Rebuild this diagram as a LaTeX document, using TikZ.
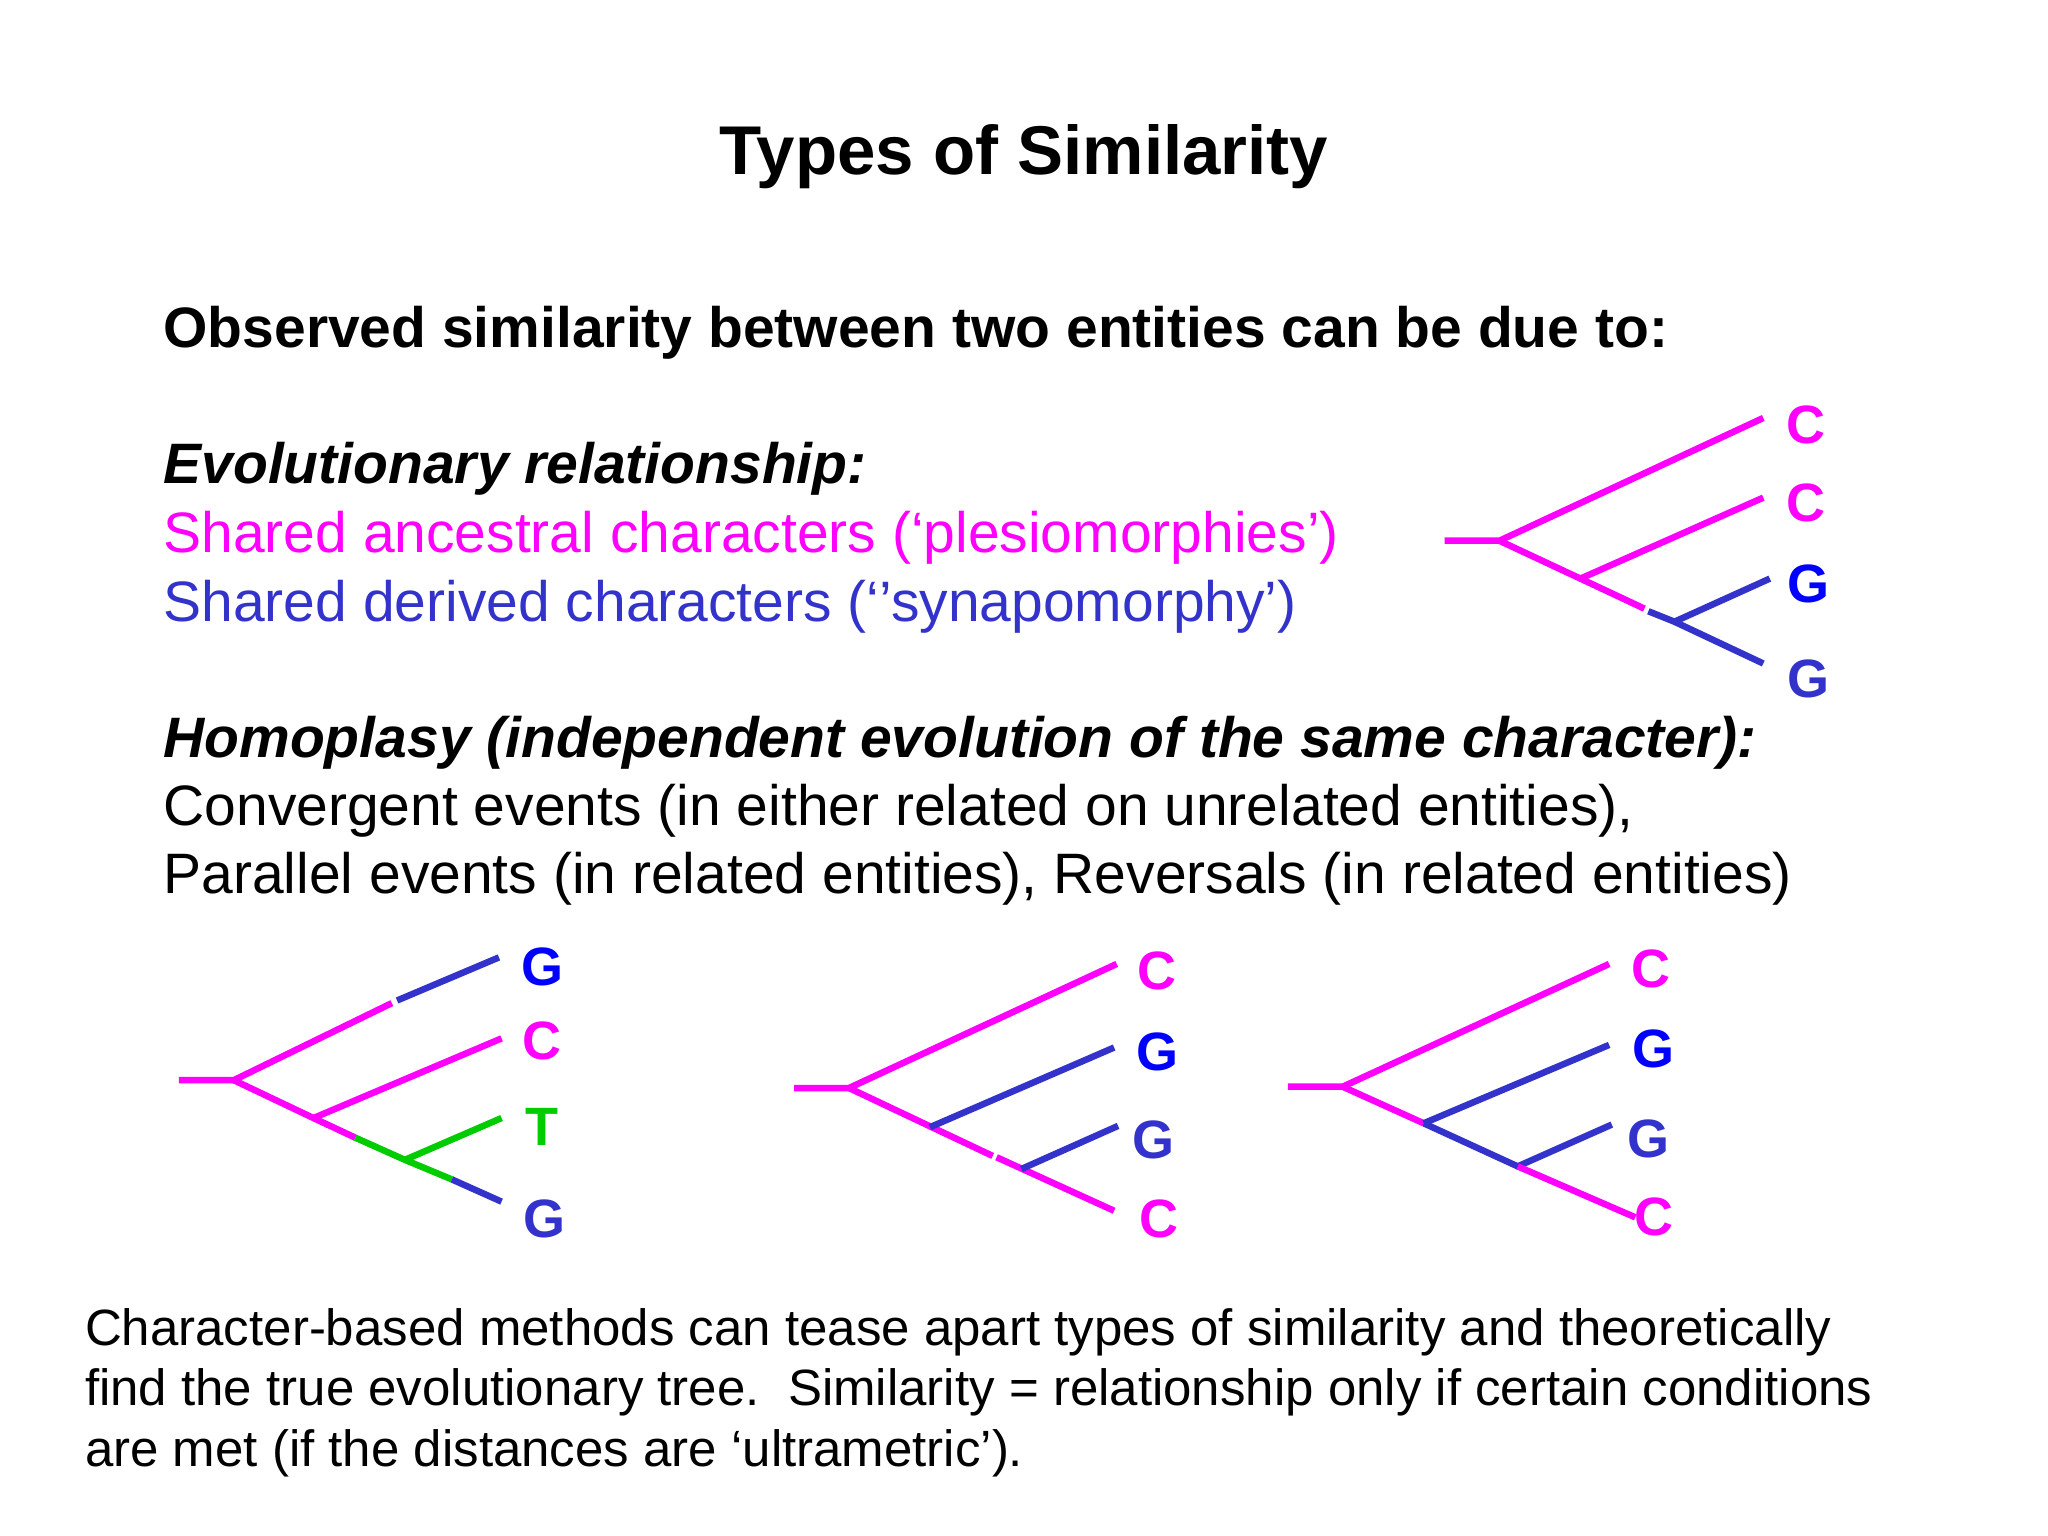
\documentclass[tikz,border=0pt]{standalone}
\usepackage{fontspec}
\setmainfont{Liberation Sans}
\definecolor{mag}{RGB}{255,0,255}
\definecolor{dblue}{RGB}{51,51,204}
\definecolor{bblue}{RGB}{0,0,255}
\definecolor{grn}{RGB}{0,204,0}
\begin{document}
\begin{tikzpicture}[x=1.306pt,y=-1.306pt,
  br/.style={line width=6.5pt},
  lab/.style={font=\fontsize{54}{54}\selectfont\bfseries, anchor=center, inner sep=0},
  body/.style={font=\fontsize{57}{60}\selectfont, anchor=base west, inner sep=0},
  foot/.style={font=\fontsize{51}{60}\selectfont, anchor=base west, inner sep=0}]
\useasboundingbox (0,0) rectangle (1568,1176);
\fill[white] (0,0) rectangle (1568,1176);
\node[font=\fontsize{69}{69}\selectfont\bfseries, inner sep=0] (title) at (784,120) {Types of Similarity};
\node[body,font=\fontsize{57}{60}\selectfont\bfseries] (t1) at (125,266) {Observed similarity between two entities can be due to:};
\node[body,font=\fontsize{57}{60}\selectfont\bfseries\itshape] (t2) at (125,370) {Evolutionary relationship:};
\node[body,text=mag] (t3) at (125,423) {Shared ancestral characters (‘plesiomorphies’)};
\node[body,text=dblue] (t4) at (125,476) {Shared derived characters (‘’synapomorphy’)};
\node[body,font=\fontsize{57}{60}\selectfont\bfseries\itshape] (t5) at (125,580) {Homoplasy (independent evolution of the same character):};
\node[body] (t6) at (125,632) {Convergent events (in either related on unrelated entities),};
\node[body] (t7) at (125,684) {Parallel events (in related entities), Reversals (in related entities)};
\node[foot] (f1) at (65,1030) {Character-based methods can tease apart types of similarity and theoretically};
\node[foot] (f2) at (65,1076) {find the true evolutionary tree.\ \ Similarity = relationship only if certain conditions};
\node[foot] (f3) at (65,1123) {are met (if the distances are ‘ultrametric’).};
% top tree
\coordinate (a0) at (1106,414); \coordinate (a1) at (1148,414);
\coordinate (a2) at (1210,443); \coordinate (a3) at (1259,466);
\coordinate (a4) at (1262,468); \coordinate (a5) at (1282,476);
\draw[br,mag] (a0)--(a1)--(1350,320); \draw[br,mag] (a1)--(a2)--(a3);
\draw[br,mag] (a2)--(1350,381);
\draw[br,dblue] (a4)--(a5)--(1355,443); \draw[br,dblue] (a5)--(1350,508);
\node[lab,text=mag] (l1) at (1383,325) {C};
\node[lab,text=mag] (l2) at (1383,385) {C};
\node[lab,text=bblue] (l3) at (1385,447) {G};
\node[lab,text=dblue] (l4) at (1385,520) {G};
% tree 1
\coordinate (b1) at (179,827); \coordinate (b2) at (240,856); \coordinate (b3) at (272,871); \coordinate (b4) at (310,888); \coordinate (b5) at (346,903);
\draw[br,mag] (137,827)--(b1)--(300,768);
\draw[br,dblue] (304,766)--(382,733);
\draw[br,mag] (b1)--(b2)--(b3); \draw[br,mag] (b2)--(384,795);
\draw[br,grn] (b3)--(b4)--(b5); \draw[br,grn] (b4)--(384,856);
\draw[br,dblue] (b5)--(384,920);
\node[lab,text=bblue] (m1) at (415,740) {G};
\node[lab,text=mag] (m2) at (415,797) {C};
\node[lab,text=grn] (m3) at (415,863) {T};
\node[lab,text=dblue] (m4) at (417,933) {G};
% tree 2
\coordinate (c1) at (650,833); \coordinate (c2) at (712,863); \coordinate (c3) at (760,885); \coordinate (c4) at (763,886); \coordinate (c5) at (782,895);
\draw[br,mag] (608,833)--(c1)--(855,738);
\draw[br,mag] (c1)--(c3); \draw[br,mag] (c4)--(853,927);
\draw[br,dblue] (c2)--(853,802); \draw[br,dblue] (c5)--(856,862);
\node[lab,text=mag] (n1) at (886,743) {C};
\node[lab,text=bblue] (n2) at (886,805) {G};
\node[lab,text=dblue] (n3) at (883,873) {G};
\node[lab,text=mag] (n4) at (887,933) {C};
% tree 3
\coordinate (d1) at (1028,832); \coordinate (d2) at (1090,860); \coordinate (d3) at (1162,893);
\draw[br,mag] (986,832)--(d1)--(1232,738); \draw[br,mag] (d1)--(d2);
\draw[br,dblue] (d2)--(1232,800); \draw[br,dblue] (d2)--(d3)--(1234,861);
\draw[br,mag] (d3)--(1252,932);
\node[lab,text=mag] (o1) at (1264,742) {C};
\node[lab,text=bblue] (o2) at (1266,803) {G};
\node[lab,text=dblue] (o3) at (1262,872) {G};
\node[lab,text=mag] (o4) at (1266,932) {C};
\end{tikzpicture}
\end{document}
